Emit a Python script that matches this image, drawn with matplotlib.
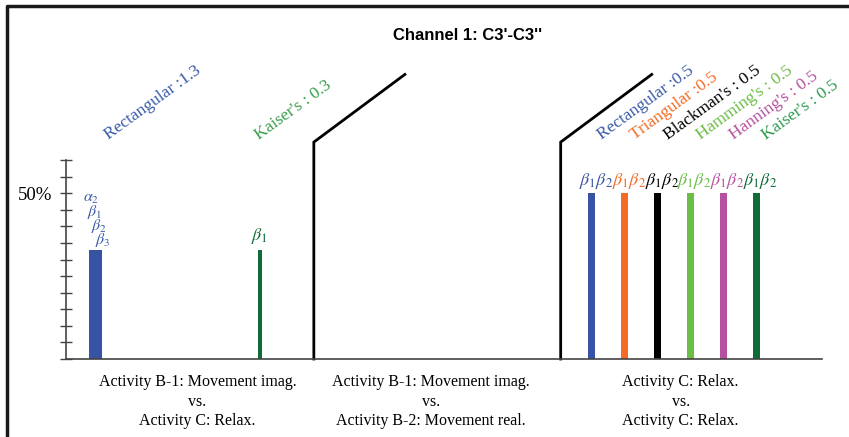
import matplotlib
matplotlib.use("Agg")
import matplotlib.pyplot as plt
from matplotlib.lines import Line2D
from matplotlib import transforms

plt.rcParams['mathtext.fontset'] = 'stix'
plt.rcParams['font.family'] = ['Liberation Serif', 'DejaVu Serif']

title = "Channel 1: C3'-C3''"
group_labels = ["Activity B-1: Movement imag.\nvs.\nActivity C: Relax.",
                "Activity B-1: Movement imag.\nvs.\nActivity B-2: Movement real.",
                "Activity C: Relax.\nvs.\nActivity C: Relax."]

# Group 1 bars
g1_windows = ["Rectangular :1.3", "Kaiser's : 0.3"]
g1_values = [33, 33]
g1_bands = [[r"$\alpha_2$", r"$\beta_1$", r"$\beta_2$", r"$\beta_3$"], [r"$\beta_1$"]]
g1_colors = ["#3953a4", "#0f6b38"]
g1_text_colors = ["#3b5ba8", "#3a9e4c"]

# Group 3 bars
g3_windows = ["Rectangular :0.5", "Triangular :0.5", "Blackman's : 0.5",
              "Hamming's : 0.5", "Hanning's : 0.5", "Kaiser's : 0.5"]
g3_values = [50, 50, 50, 50, 50, 50]
g3_band = r"$\beta_1\beta_2$"
g3_colors = ["#3953a4", "#f36b25", "#000000", "#6abd45", "#b5519e", "#0f6b38"]
g3_text_colors = ["#3b5ba8", "#f36b25", "#000000", "#6abd45", "#b5519e", "#2e9a4f"]

yticks = list(range(0, 61, 5))

fig = plt.figure(figsize=(8.49, 4.37), dpi=100)
ax = fig.add_axes([66/849, 1-359/437, 756/849, 199/437])
ax.set_xlim(0, 23)
ax.set_ylim(0, 60)

# layout
g1_pos = [0.9, 5.9]
g1_width = [0.4, 0.1]
g3_pos = [16 + i for i in range(len(g3_values))]
g3_width = 0.21
seps = [7.54, 15.05]
label_x = [4.0, 11.1, 18.7]

for x, v, w, c in zip(g1_pos, g1_values, g1_width, g1_colors):
    ax.bar(x, v, width=w, color=c)
for x, v, c in zip(g3_pos, g3_values, g3_colors):
    ax.bar(x, v, width=g3_width, color=c)

rot = 36
# rotated window labels
for x, name, c in zip([1.3, 5.86], g1_windows, g1_text_colors):
    ax.text(x, 66.0, name, rotation=rot, rotation_mode='anchor', ha='left', va='baseline',
            color=c, fontsize=12.5, clip_on=False)
for x, name, c in zip(g3_pos, g3_windows, g3_text_colors):
    ax.text(x + 0.3, 66.0, name, rotation=rot, rotation_mode='anchor', ha='left', va='baseline',
            color=c, fontsize=12.5, clip_on=False)

# band labels (stacked, staggered)
bands = g1_bands[0]
n = len(bands)
for i, b in enumerate(bands):
    tr = transforms.offset_copy(ax.transData, fig=fig, x=(i * 4.2 - 13) * 0.72,
                                y=(6 + (n - 1 - i) * 14) * 0.72, units='points')
    ax.text(g1_pos[0], g1_values[0], b, transform=tr, ha='left', va='baseline',
            color=g1_text_colors[0], fontsize=11.5, clip_on=False)
ax.text(g1_pos[1], g1_values[1] + 1.0, g1_bands[1][0], ha='center', va='bottom',
        color=g1_colors[1], fontsize=13, clip_on=False)
for x, v, c in zip(g3_pos, g3_values, g3_colors):
    ax.text(x + 0.12, v + 0.8, g3_band, ha='center', va='bottom', color=c, fontsize=13, clip_on=False)

# separators
for s in seps:
    ax.add_line(Line2D([s, s, s + 2.77], [0, 65.4, 85.8], color='black', lw=2.0, clip_on=False,
                       solid_joinstyle='miter'))

# axes styling
for sp in ['top', 'right']:
    ax.spines[sp].set_visible(False)
for sp in ['left', 'bottom']:
    ax.spines[sp].set_color('#444444')
    ax.spines[sp].set_linewidth(1.2)
ax.set_xticks([])
ax.set_yticks(yticks)
ax.set_yticklabels(["50%" if t == 50 else "" for t in yticks], fontsize=13.5)
ax.tick_params(axis='y', direction='inout', length=8, width=1.0, color='#444444', pad=6)

for x, lab in zip(label_x, group_labels):
    ax.text(x, -4.5, lab, ha='center', va='top', fontsize=11.5, linespacing=1.3,
            transform=ax.transData, clip_on=False)

fig.text(468/849, 1 - 35/437, title, ha='center', va='center', fontsize=12,
         fontweight='bold', family='Liberation Sans')

# outer frame (left and top edges)
fig.add_artist(Line2D([6.5/849, 6.5/849, 1.0], [0.0, 1 - 6/437, 1 - 6/437],
                      transform=fig.transFigure, color='#1a1a1a', lw=2.5))

fig.savefig("out.png", dpi=100)
